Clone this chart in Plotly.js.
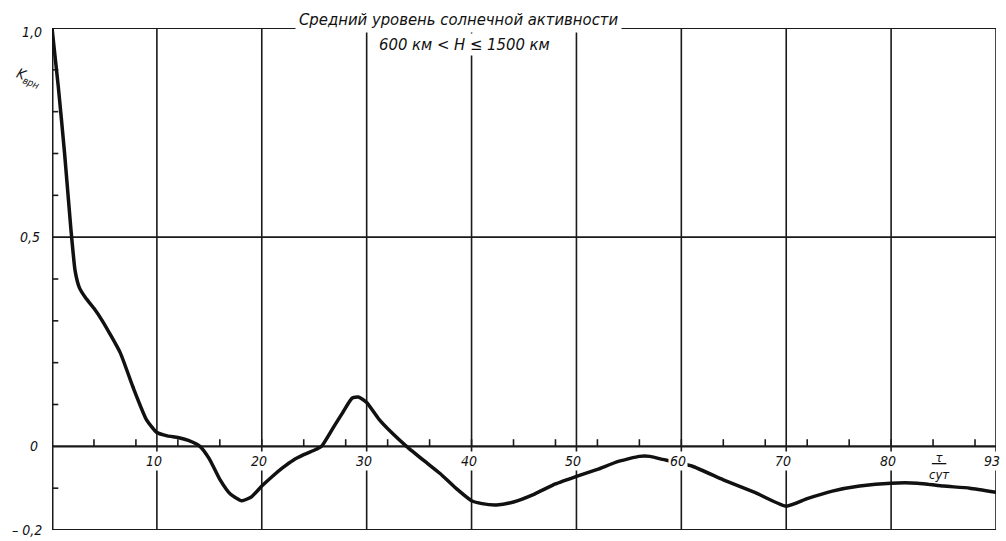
<!DOCTYPE html>
<html>
<head>
<meta charset="utf-8">
<script src="https://cdn.plot.ly/plotly-3.0.1.min.js"></script>
<style>html,body{margin:0;padding:0;background:#fff;}#chart{width:1006px;height:541px;}</style>
</head>
<body>
<div id="chart"></div>
<script>
// Data
var tau = [0, 0.6, 1.2, 1.8, 2.2, 2.6, 3.2, 4.0, 4.8, 6.5, 7.7, 9.0, 10, 11, 12, 13, 14.1, 15, 16, 17, 18.1, 19, 20, 21, 22, 23, 24, 25.2, 25.7, 26.8, 27.7, 28.6, 29.2, 30, 31.2, 32.5, 33.8, 35.5, 37, 38.5, 40, 41, 42.4, 44, 46, 48, 50, 52, 54, 56, 57, 58, 61, 64, 67, 70, 72, 74.4, 77, 80, 82.5, 85, 87.5, 90];
var kvr = [1.0, 0.86, 0.7, 0.52, 0.42, 0.38, 0.355, 0.33, 0.30, 0.224, 0.143, 0.064, 0.033, 0.025, 0.021, 0.014, 0.0, -0.03, -0.079, -0.114, -0.13, -0.121, -0.095, -0.072, -0.051, -0.033, -0.02, -0.007, 0.0, 0.044, 0.08, 0.115, 0.118, 0.105, 0.064, 0.03, 0.0, -0.035, -0.065, -0.1, -0.13, -0.137, -0.14, -0.133, -0.114, -0.09, -0.072, -0.055, -0.036, -0.024, -0.024, -0.03, -0.047, -0.08, -0.11, -0.143, -0.125, -0.107, -0.095, -0.088, -0.088, -0.095, -0.1, -0.11];

var xTickVals = [10, 20, 30, 40, 50, 60, 70, 80, 90];
var xTickText = ['10', '20', '30', '40', '50', '60', '70', '80', '93'];
var yTickVals = [1.0, 0.5, 0, -0.2];
var yTickText = ['1,0', '0,5', '0', '– 0,2'];
var titleLine1 = 'Средний уровень солнечной активности';
var titleLine2 = '600 км < H ≤ 1500 км';
var yLabel = 'K<sub>врн</sub>';
var xUnitTop = 'τ';
var xUnitBottom = 'сут';

var FAM = 'DejaVu Sans Condensed, DejaVu Sans, sans-serif';
var FONT = {family: FAM, size: 14, color: '#111', style: 'italic'};
var TFONT = {family: FAM, size: 16.5, color: '#111', style: 'italic'};
var INK = '#1a1a1a';

var shapes = [];
function seg(x0, y0, x1, y1, w) {
  shapes.push({type: 'line', xref: 'x', yref: 'y', x0: x0, y0: y0, x1: x1, y1: y1,
    line: {color: INK, width: w}, layer: 'below'});
}
// vertical grid lines
xTickVals.forEach(function (v) { seg(v, -0.2, v, 1.0, 1.6); });
// horizontal lines
seg(0, 1.0, 90, 1.0, 2);
seg(0, 0.5, 90, 0.5, 1.6);
seg(0, 0, 90, 0, 2.2);
seg(0, -0.2, 90, -0.2, 2.2);
seg(0, -0.2, 0, 1.0, 3);
// minor ticks on zero line (every 4 units), pointing up
for (var t = 4; t < 90; t += 4) {
  shapes.push({type: 'line', xref: 'x', yref: 'y', x0: t, x1: t, y0: 0, y1: 0.017,
    line: {color: INK, width: 1.6}, layer: 'below'});
}
// minor ticks on the left axis (every 0.1)
[-0.1, 0.1, 0.2, 0.3, 0.4, 0.6, 0.7, 0.8, 0.9].forEach(function (v) {
  shapes.push({type: 'line', xref: 'x', yref: 'y', x0: 0, x1: 0.6, y0: v, y1: v,
    line: {color: INK, width: 1.6}, layer: 'below'});
});

var annotations = [];
xTickVals.forEach(function (v, i) {
  annotations.push({x: v, y: 0, xref: 'x', yref: 'y', text: xTickText[i], showarrow: false,
    xanchor: 'center', yanchor: 'top', yshift: -5, xshift: (v === 90 ? -4 : -3),
    font: FONT, bgcolor: '#fff', borderpad: 1});
});
yTickVals.forEach(function (v, i) {
  annotations.push({x: 0, y: v, xref: 'x', yref: 'y', text: yTickText[i], showarrow: false,
    xanchor: 'right', yanchor: 'middle', xshift: (v === 0.5 ? -10 : (v === 0 ? -12 : -8)),
    yshift: (v === 1.0 ? -4 : 0), font: FONT});
});
annotations.push({x: 0, y: 0.88, xref: 'x', yref: 'y', text: yLabel, showarrow: false,
  xanchor: 'right', yanchor: 'middle', xshift: -6, textangle: 22, font: FONT});
annotations.push({x: 0.431, y: 1.016, xref: 'paper', yref: 'paper', text: titleLine1, showarrow: false,
  xanchor: 'center', yanchor: 'middle', font: TFONT, bgcolor: '#fff', borderpad: 3});
annotations.push({x: 0.437, y: 0.968, xref: 'paper', yref: 'paper', text: titleLine2, showarrow: false,
  xanchor: 'center', yanchor: 'middle', font: TFONT, bgcolor: '#fff', borderpad: 1});
annotations.push({x: 84.6, y: 0, xref: 'x', yref: 'y', text: '<u> ' + xUnitTop + ' </u><br>' + xUnitBottom,
  showarrow: false, xanchor: 'center', yanchor: 'top', yshift: -3,
  font: {family: FAM, size: 13, color: '#111', style: 'italic'}, bgcolor: '#fff', borderpad: 0});

var trace = {x: tau, y: kvr, type: 'scatter', mode: 'lines',
  line: {color: '#111', width: 3.5, shape: 'spline', smoothing: 0.5}, hoverinfo: 'skip'};

var layout = {
  width: 1006, height: 541,
  margin: {l: 52, r: 10, t: 28, b: 11, pad: 0},
  paper_bgcolor: '#fff', plot_bgcolor: '#fff',
  showlegend: false,
  xaxis: {range: [0, 90], showgrid: false, zeroline: false, showline: false, showticklabels: false, ticks: ''},
  yaxis: {range: [-0.2, 1.0], showgrid: false, zeroline: false, showline: false, showticklabels: false, ticks: ''},
  shapes: shapes,
  annotations: annotations
};

Plotly.newPlot('chart', [trace], layout, {staticPlot: true, displayModeBar: false});
</script>
</body>
</html>
